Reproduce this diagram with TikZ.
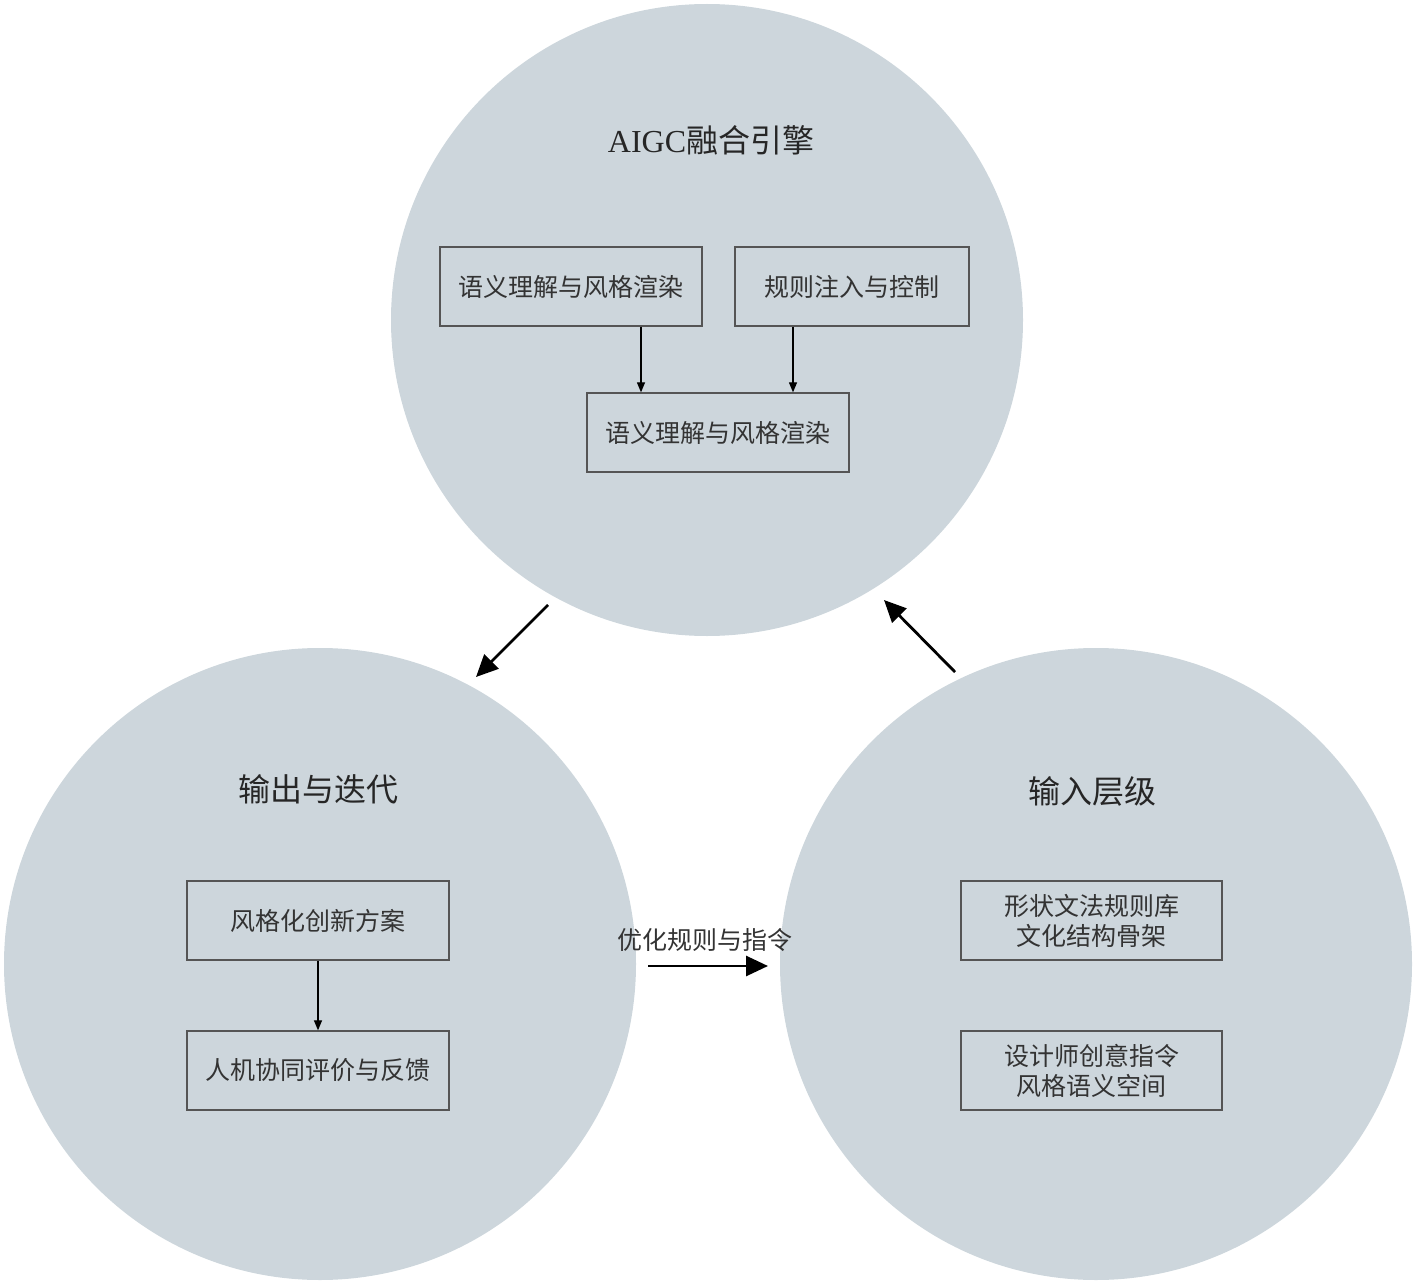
\documentclass[tikz,border=0pt]{standalone}
\usepackage{fontspec}
\newfontfamily\cjk{Noto Sans CJK SC}
\newfontfamily\latinserif{Liberation Serif}
\usetikzlibrary{arrows.meta}
\definecolor{zonefill}{RGB}{205,214,220}
\definecolor{boxline}{RGB}{85,85,85}

\begin{document}
\begin{tikzpicture}[x=1pt, y=-1pt,
	zone/.style = {circle, fill=zonefill, minimum size=632pt, inner sep=0pt},
	title/.style = {font=\fontsize{32}{38}\selectfont\cjk, text=black!85},
	box/.style = {draw=boxline, line width=1.3pt, minimum width=262pt, minimum height=79pt, inner sep=0pt, align=center, font=\fontsize{25}{30}\selectfont\cjk, text=black!80},
	flow/.style = {->, > = {Triangle[length=10pt, width=8pt]}, line width=1.2pt},
	cycle/.style = {->, > = {Triangle[length=22pt, width=20pt]}, line width=2.8pt}]
	\useasboundingbox (0,0) rectangle (1417,1284);
	
	\node[zone] (engine) at (707,320) {}; % top
	\node[zone] (output) at (320,964) {}; % left
	\node[zone] (input) at (1096,964) {}; % right
	
	\node[title] (engineT) at (711,140) {{\latinserif AIGC}融合引擎};
	\node[title] (outputT) at (318,789) {输出与迭代};
	\node[title] (inputT) at (1092,791) {输入层级};
	
	\node[box] (sem) at (571,286.5) {语义理解与风格渲染};
	\node[box, minimum width=234pt] (rule) at (852,286.5) {规则注入与控制};
	\node[box] (render) at (718,432.5) {语义理解与风格渲染};
	\coordinate (semS) at ([xshift=70pt]sem.south);
	\coordinate (ruleS) at ([xshift=-59pt]rule.south);
	\draw[flow] (semS) -- (semS |- render.north);
	\draw[flow] (ruleS) -- (ruleS |- render.north);
	
	\node[box] (plan) at (318,920.5) {风格化创新方案};
	\node[box] (eval) at (318,1070.5) {人机协同评价与反馈};
	\draw[flow] (plan) -- (eval);
	
	\node[box, minimum width=261pt] (grammar) at (1091.5,920.5) {形状文法规则库\\文化结构骨架};
	\node[box, minimum width=261pt] (intent) at (1091.5,1070.5) {设计师创意指令\\风格语义空间};
	
	% cycle between the three zones
	\coordinate (c1s) at (548,605);
	\coordinate (c1e) at (476,677);
	\coordinate (c2s) at (955,672);
	\coordinate (c2e) at (884,600);
	\coordinate (c3s) at (648,966);
	\coordinate (c3e) at (768,966);
	\draw[cycle] (c1s) -- (c1e);
	\draw[cycle] (c2s) -- (c2e);
	\draw[cycle] (c3s) -- (c3e);
	\node[font=\fontsize{25}{30}\selectfont\cjk, text=black!80] (refine) at (705,940) {优化规则与指令};
\end{tikzpicture}
\end{document}
